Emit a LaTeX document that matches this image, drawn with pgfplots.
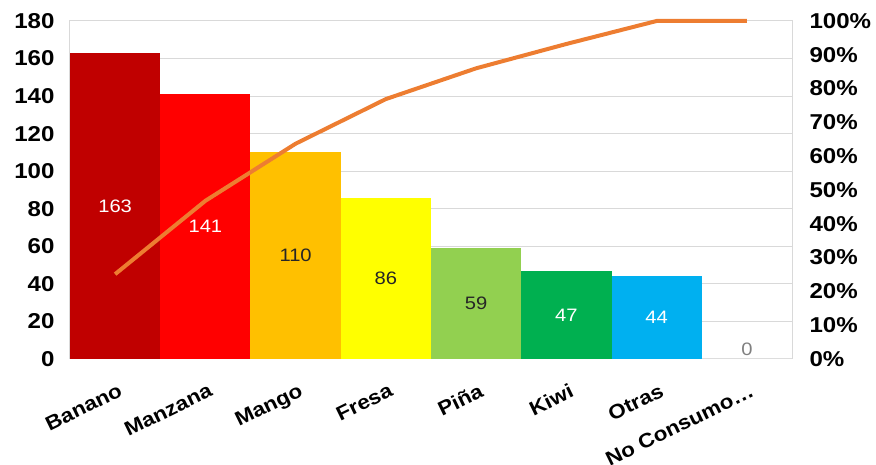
\documentclass[border=0pt]{standalone}
\usepackage{pgfplots}
\pgfplotsset{compat=1.18}
\usepackage{fontspec}
\setmainfont{Liberation Sans}[FakeStretch=1.12]
\definecolor{cBanano}{HTML}{C00000}
\definecolor{cManzana}{HTML}{FF0000}
\definecolor{cMango}{HTML}{FFC000}
\definecolor{cFresa}{HTML}{FFFF00}
\definecolor{cPina}{HTML}{92D050}
\definecolor{cKiwi}{HTML}{00B050}
\definecolor{cOtras}{HTML}{00B0F0}
\definecolor{cLine}{HTML}{ED7D31}
\definecolor{cGrid}{HTML}{D9D9D9}
\definecolor{cDark}{HTML}{262626}

\pgfplotsset{
  base/.style={
    width=722pt, height=338pt, scale only axis,
    xmin=-0.5, xmax=7.5,
    major tick length=0pt,
    /pgf/number format/assume math mode=true,
    yticklabel style={font=\fontsize{21.5}{24}\selectfont\bfseries},
  },
  onebar/.style={ybar, bar width=1, bar shift=0pt, draw=none, fill=#1},
  lab/.style={draw=none, mark=none, nodes near coords, point meta=explicit symbolic,
    nodes near coords style={anchor=center, font=\fontsize{18}{20}\selectfont, text=#1}},
}

\begin{document}
\begin{tikzpicture}
\useasboundingbox (-70pt,-106pt) rectangle (806pt,359pt);
\begin{axis}[base,
  ymin=0, ymax=180, ytick={0,20,...,180},
  ymajorgrids, grid style={cGrid, line width=1pt},
  axis line style={cGrid, line width=1pt},
  xtick={0,...,7},
  xticklabels={Banano, Manzana, Mango, Fresa, Piña, Kiwi, Otras, No Consumo…},
  xticklabel style={font=\fontsize{20}{22}\selectfont\bfseries, rotate=26, anchor=north east, yshift=-19pt, xshift=-5pt},
  yticklabel style={xshift=-12pt},
]
\addplot[onebar=cBanano] coordinates {(0,163)};
\addplot[onebar=cManzana] coordinates {(1,141)};
\addplot[onebar=cMango] coordinates {(2,110)};
\addplot[onebar=cFresa] coordinates {(3,86)};
\addplot[onebar=cPina] coordinates {(4,59)};
\addplot[onebar=cKiwi] coordinates {(5,47)};
\addplot[onebar=cOtras] coordinates {(6,44)};
\addplot[onebar=white] coordinates {(7,0)};
% data labels, at half bar height
\addplot[lab=white] coordinates {(0,81.5)[163] (1,70.5)[141] (5,23.5)[47] (6,22)[44]};
\addplot[lab=cDark] coordinates {(2,55)[110] (3,43)[86] (4,29.5)[59]};
\addplot[lab=gray] coordinates {(7,5)[0]};
\end{axis}
\begin{axis}[base,
  ymin=0, ymax=100, ytick={0,10,...,100},
  axis x line=none, axis y line*=right,
  axis line style={draw=none},
  yticklabel={\pgfmathprintnumber{\tick}\%},
  yticklabel style={xshift=14pt},
  clip=false,
]
\addplot[cLine, line width=4pt, mark=none] coordinates {
  (0,25.1) (1,46.8) (2,63.7) (3,76.9) (4,86.0) (5,93.2) (6,100) (7,100)};
\end{axis}
\end{tikzpicture}
\end{document}
